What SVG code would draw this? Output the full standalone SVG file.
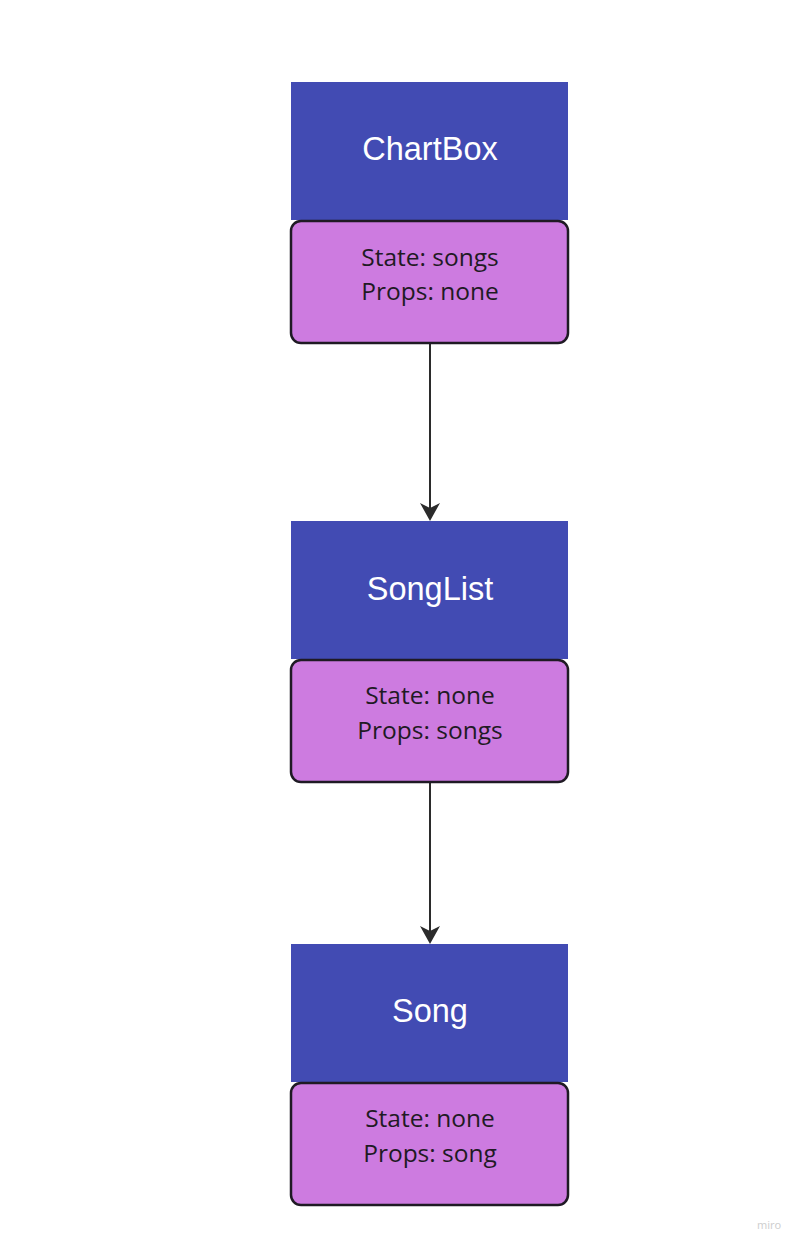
<svg xmlns="http://www.w3.org/2000/svg" width="801" height="1248" viewBox="0 0 801 1248">
<style>
.hdr{fill:#424bb3}
.body{fill:#cd7be0;stroke:#1f1a24;stroke-width:2.5}
.title{font-family:"Liberation Sans",Arial,sans-serif;font-size:32.5px;fill:#ffffff;text-anchor:middle}
.info{font-family:"Open Sans","Noto Sans",sans-serif;font-size:24.5px;fill:#1f1a24;text-anchor:middle}
.conn{stroke:#2b2b2b;stroke-width:2;fill:none}
</style>
<rect width="801" height="1248" fill="#ffffff"/>
<g id="connectors">
<path class="conn" d="M430,344 L430,511"/>
<path d="M420,503 L430,521 L440,503 L430,508 Z" fill="#2b2b2b"/>
<path class="conn" d="M430,783 L430,934"/>
<path d="M420,926 L430,944 L440,926 L430,931 Z" fill="#2b2b2b"/>
</g>
<g id="chartbox">
<rect class="hdr" x="291" y="82" width="277" height="138"/>
<text class="title" x="430" y="160">ChartBox</text>
<rect class="body" x="291" y="221" width="277" height="122" rx="10"/>
<text class="info" x="430" y="266">State: songs</text>
<text class="info" x="430" y="300">Props: none</text>
</g>
<g id="songlist">
<rect class="hdr" x="291" y="521" width="277" height="138"/>
<text class="title" x="430" y="600">SongList</text>
<rect class="body" x="291" y="660" width="277" height="122" rx="10"/>
<text class="info" x="430" y="704">State: none</text>
<text class="info" x="430" y="739">Props: songs</text>
</g>
<g id="song">
<rect class="hdr" x="291" y="944" width="277" height="138"/>
<text class="title" x="430" y="1022">Song</text>
<rect class="body" x="291" y="1083" width="277" height="122" rx="10"/>
<text class="info" x="430" y="1127">State: none</text>
<text class="info" x="430" y="1162">Props: song</text>
</g>
<text x="769" y="1229" font-family="'Noto Sans',sans-serif" font-size="11" fill="#cfcfcf" text-anchor="middle">miro</text>
</svg>
